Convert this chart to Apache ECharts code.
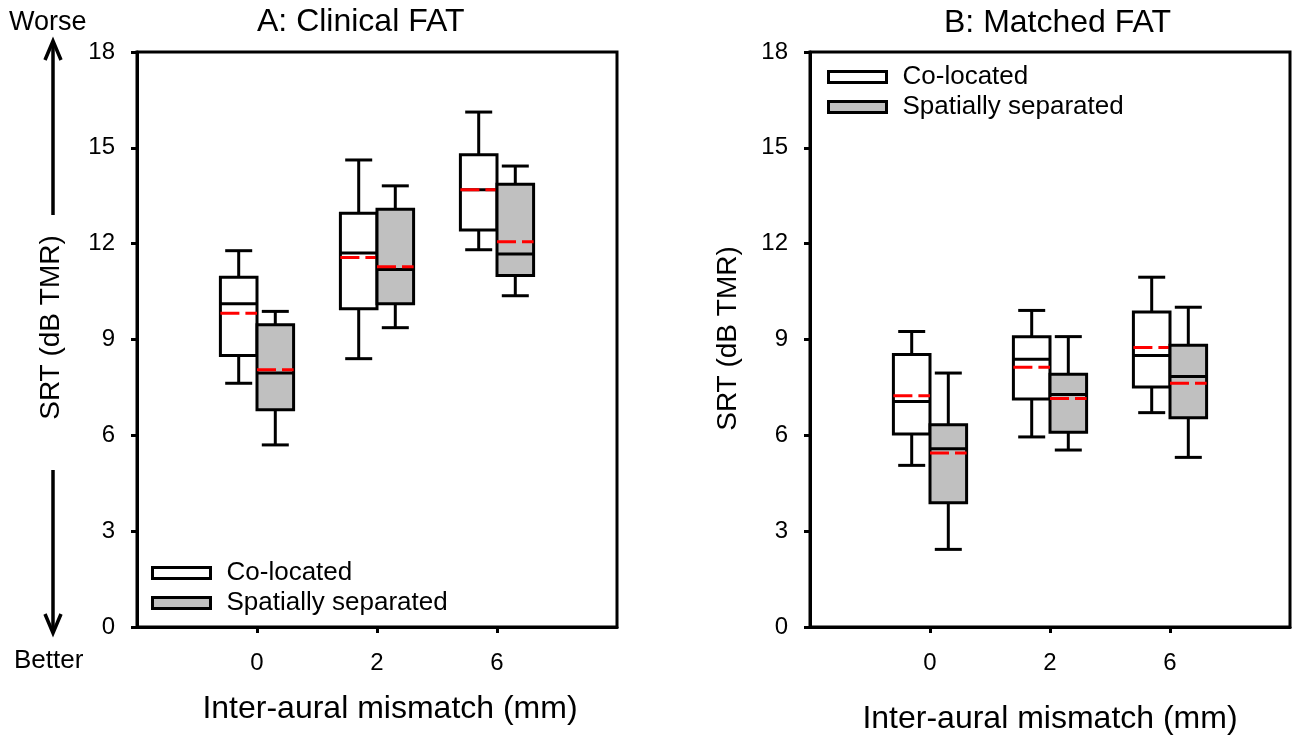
<!DOCTYPE html>
<html>
<head>
<meta charset="utf-8">
<script src="https://cdn.jsdelivr.net/npm/echarts@6/dist/echarts.min.js"></script>
<style>
html, body { margin: 0; padding: 0; background: #fff; }
#main { width: 1293px; height: 735px; }
</style>
</head>
<body>
<div id="main"></div>
<script>
var categories = ['0', '2', '6'];
var seriesNames = ['Co-located', 'Spatially separated'];
var panelTitles = ['A: Clinical FAT', 'B: Matched FAT'];

// each row: [whisker low, q1, median, q3, whisker high, mean]
var clinicalColocated = [
  [7.63, 8.50, 10.12, 10.95, 11.78, 9.82],
  [8.40, 9.96, 11.71, 12.95, 14.62, 11.57],
  [11.81, 12.43, 13.69, 14.78, 16.12, 13.69]
];
var clinicalSeparated = [
  [5.70, 6.80, 7.95, 9.46, 9.88, 8.05],
  [9.37, 10.12, 11.19, 13.08, 13.81, 11.28],
  [10.37, 11.00, 11.68, 13.86, 14.43, 12.06]
];
var matchedColocated = [
  [5.06, 6.04, 7.06, 8.53, 9.25, 7.24],
  [5.95, 7.14, 8.38, 9.09, 9.91, 8.13],
  [6.71, 7.51, 8.50, 9.86, 10.95, 8.75]
];
var matchedSeparated = [
  [2.43, 3.89, 5.58, 6.33, 7.95, 5.45],
  [5.54, 6.10, 7.28, 7.91, 9.09, 7.15],
  [5.31, 6.55, 7.84, 8.82, 10.01, 7.63]
];

var FONT = "'Liberation Sans', Arial, sans-serif";
var LW = 3;
var chart = echarts.init(document.getElementById('main'));

// categories sit at x = 1, 2, 3 on a 0..4 value axis
function toData(rows) {
  return rows.map(function (r, i) { return [i + 1].concat(r); });
}

function boxRenderer(side) {
  return function (params, api) {
    var x = api.value(0);
    var band = api.size([1, 0])[0];
    var bw = band * 0.305;
    var cap = band * 0.225;
    var cx = api.coord([x, 0])[0] + side * bw / 2;
    function y(d) { return api.coord([x, api.value(d)])[1]; }
    var lo = y(1), q1 = y(2), med = y(3), q3 = y(4), hi = y(5), mean = y(6);
    var st = { stroke: '#000', lineWidth: LW };
    return {
      type: 'group',
      children: [
        { type: 'line', shape: { x1: cx, y1: q3, x2: cx, y2: hi }, style: st },
        { type: 'line', shape: { x1: cx, y1: q1, x2: cx, y2: lo }, style: st },
        { type: 'line', shape: { x1: cx - cap / 2, y1: hi, x2: cx + cap / 2, y2: hi }, style: st },
        { type: 'line', shape: { x1: cx - cap / 2, y1: lo, x2: cx + cap / 2, y2: lo }, style: st },
        { type: 'rect', shape: { x: cx - bw / 2, y: q3, width: bw, height: q1 - q3 },
          style: { fill: api.visual('color'), stroke: '#000', lineWidth: LW } },
        { type: 'line', shape: { x1: cx - bw / 2, y1: med, x2: cx + bw / 2, y2: med }, style: st },
        { type: 'line', shape: { x1: cx - bw / 2, y1: mean, x2: cx + bw / 2, y2: mean },
          style: { stroke: '#ff0000', lineWidth: 3, lineDash: [19, 6] } }
      ]
    };
  };
}

function xAxis(idx, nameShift) {
  return {
    type: 'value', gridIndex: idx, min: 0, max: 4, interval: 1,
    name: 'Inter-aural mismatch (mm)', nameLocation: 'middle', nameGap: idx === 0 ? 66 : 76,
    nameTextStyle: { fontFamily: FONT, fontSize: 32, color: '#000', padding: [0, 0, 0, nameShift] },
    axisLine: { lineStyle: { color: '#000', width: LW } },
    axisTick: { show: true, length: 6, lineStyle: { color: '#000', width: LW }, customValues: [1, 2, 3] },
    axisLabel: {
      fontFamily: FONT, fontSize: 24, color: '#000', margin: 24, customValues: [1, 2, 3],
      formatter: function (v) { return categories[Math.round(v) - 1] || ''; }
    },
    splitLine: { show: false }
  };
}

function yAxis(idx, gap, shift) {
  return {
    type: 'value', gridIndex: idx, min: 0, max: 18, interval: 3,
    name: 'SRT (dB TMR)', nameLocation: 'middle', nameGap: gap, nameRotate: 90,
    nameTextStyle: { fontFamily: FONT, fontSize: 28, color: '#000', padding: [0, 0, 0, shift] },
    axisLine: { show: true, lineStyle: { color: '#000', width: LW } },
    axisTick: { show: true, length: 6, lineStyle: { color: '#000', width: LW } },
    axisLabel: { fontFamily: FONT, fontSize: 24, color: '#000', margin: 22 },
    splitLine: { show: false }
  };
}

function legend(left, top) {
  return {
    orient: 'vertical', left: left, top: top, padding: 0, itemGap: 4,
    itemWidth: 58, itemHeight: 11, selectedMode: false,
    textStyle: { fontFamily: FONT, fontSize: 26, color: '#000', padding: [0, 0, 0, 11] },
    data: [
      { name: seriesNames[0], icon: 'rect', itemStyle: { color: '#fff', borderColor: '#000', borderWidth: LW } },
      { name: seriesNames[1], icon: 'rect', itemStyle: { color: '#c0c0c0', borderColor: '#000', borderWidth: LW } }
    ]
  };
}

function boxSeries(name, idx, rows, side, color) {
  return {
    name: name, type: 'custom', xAxisIndex: idx, yAxisIndex: idx,
    itemStyle: { color: color },
    renderItem: boxRenderer(side),
    encode: { x: 0, y: [1, 2, 3, 4, 5, 6] },
    data: toData(rows)
  };
}

var arrowStyle = { stroke: '#000', lineWidth: 3.5 };

option = {
  backgroundColor: '#fff',
  animation: false,
  title: [
    { text: panelTitles[0], left: 257, top: 6, padding: 0,
      textStyle: { fontFamily: FONT, fontSize: 32, fontWeight: 'normal', color: '#000' } },
    { text: panelTitles[1], left: 944, top: 7, padding: 0,
      textStyle: { fontFamily: FONT, fontSize: 32, fontWeight: 'normal', color: '#000' } }
  ],
  legend: [legend(151, 560), legend(827, 64)],
  grid: [
    { left: 137, top: 52, width: 480, height: 575, show: true, borderColor: '#000', borderWidth: LW, outerBoundsMode: 'none' },
    { left: 810, top: 52, width: 480, height: 575, show: true, borderColor: '#000', borderWidth: LW, outerBoundsMode: 'none' }
  ],
  xAxis: [xAxis(0, 26), xAxis(1, 0)],
  yAxis: [yAxis(0, 72, 24), yAxis(1, 68, 2)],
  series: [
    boxSeries(seriesNames[0], 0, clinicalColocated, -1, '#ffffff'),
    boxSeries(seriesNames[1], 0, clinicalSeparated, 1, '#c0c0c0'),
    boxSeries(seriesNames[0], 1, matchedColocated, -1, '#ffffff'),
    boxSeries(seriesNames[1], 1, matchedSeparated, 1, '#c0c0c0')
  ],
  graphic: [
    { type: 'text', left: 9, top: 9, style: { text: 'Worse', font: '27px ' + FONT, fill: '#000' } },
    { type: 'text', left: 14, top: 648, style: { text: 'Better', font: '26px ' + FONT, fill: '#000' } },
    { type: 'line', shape: { x1: 53, y1: 215, x2: 53, y2: 42 }, style: arrowStyle },
    { type: 'polyline', shape: { points: [[45, 60], [53, 41], [61, 60]] }, style: arrowStyle },
    { type: 'line', shape: { x1: 53, y1: 470, x2: 53, y2: 632 }, style: arrowStyle },
    { type: 'polyline', shape: { points: [[45, 614], [53, 633], [61, 614]] }, style: arrowStyle }
  ]
};

chart.setOption(option);
</script>
</body>
</html>
